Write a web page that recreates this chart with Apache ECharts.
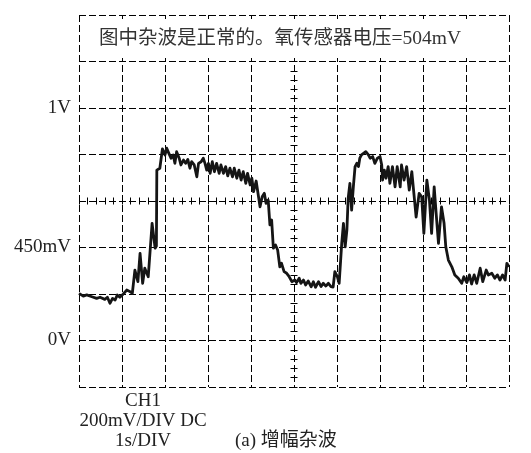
<!DOCTYPE html>
<html>
<head>
<meta charset="utf-8">
<script src="https://cdn.jsdelivr.net/npm/echarts@6/dist/echarts.min.js"></script>
<style>
html,body{margin:0;padding:0;background:#fff;}
#chart{width:531px;height:453px;}
</style>
</head>
<body>
<div id="chart"></div>
<script>
// ---- data (time in s, voltage in mV) ----
var timeSec = [
0.00,0.10,0.18,0.30,0.41,0.49,0.60,0.66,0.72,0.78,0.84,0.89,0.95,1.03,1.11,1.19,
1.24,1.30,1.37,1.42,1.48,1.53,1.61,1.70,1.77,1.80,1.81,1.88,1.94,2.00,2.04,2.09,
2.14,2.19,2.23,2.27,2.33,2.37,2.43,2.48,2.53,2.58,2.62,2.68,2.74,2.78,2.84,2.89,
2.93,2.97,3.01,3.05,3.10,3.15,3.20,3.26,3.30,3.36,3.41,3.46,3.51,3.57,3.61,3.67,
3.72,3.77,3.82,3.88,3.92,3.98,4.02,4.06,4.12,4.16,4.21,4.26,4.31,4.35,4.40,4.44,
4.48,4.52,4.57,4.62,4.67,4.71,4.77,4.83,4.88,4.95,4.98,5.02,5.06,5.12,5.16,5.22,
5.27,5.33,5.40,5.45,5.50,5.57,5.63,5.68,5.74,5.80,5.86,5.91,5.95,6.01,6.05,6.11,
6.15,6.19,6.23,6.26,6.30,6.34,6.38,6.42,6.46,6.50,6.53,6.57,6.61,6.67,6.73,6.77,
6.83,6.88,6.94,7.00,7.04,7.06,7.10,7.14,7.19,7.23,7.29,7.35,7.40,7.47,7.50,7.56,
7.62,7.68,7.74,7.77,7.84,7.91,7.97,8.02,8.09,8.15,8.20,8.26,8.30,8.36,8.43,8.49,
8.53,8.59,8.67,8.74,8.82,8.90,8.95,9.02,9.08,9.13,9.19,9.25,9.33,9.39,9.47,9.52,
9.60,9.67,9.73,9.79,9.85,9.91,9.95,10.00
];
var voltageMv = [
203,191,196,188,181,186,177,186,160,181,174,196,186,200,217,210,
203,303,253,375,246,311,274,504,397,406,733,741,824,798,827,805,
784,798,762,812,784,755,776,762,779,741,769,755,704,762,769,784,
762,733,762,719,769,726,762,719,755,719,748,708,741,704,741,698,
733,690,726,676,719,669,698,640,686,686,575,618,633,590,604,497,
518,397,411,389,317,332,296,289,277,253,246,260,249,268,246,260,
239,256,231,253,229,253,232,246,234,246,232,230,296,274,246,418,
504,403,475,612,676,561,661,748,762,748,784,798,791,812,798,784,
791,762,784,791,755,690,733,698,748,676,748,661,748,661,755,690,
748,647,726,719,531,633,618,461,690,604,461,661,561,418,575,504,
403,346,317,282,268,246,274,249,282,243,282,246,311,253,303,282,
289,268,282,260,282,260,332,317
];
// y tick labels shown on the left (value in mV -> text)
var yLabelValues = [0, 400, 1000];
var yLabelTexts = ['0V', '450mV', '1V'];

var titleText = '图中杂波是正常的。氧传感器电压=504mV';
var chLines = ['CH1', '200mV/DIV DC', '1s/DIV'];
var captionText = '(a) 增幅杂波';

var FONT = '"Liberation Serif","Noto Sans CJK SC",serif';
var seriesData = timeSec.map(function (t, i) { return [t, voltageMv[i]]; });

var dash = { color: '#000', width: 1, type: [7, 3] };
function crossAxisX(inside) {
  return {
    type: 'value', min: 0, max: 10, interval: 1, position: 'bottom', offset: -186,
    axisLine: { show: false }, axisLabel: { show: false }, splitLine: { show: false },
    axisTick: { show: true, inside: inside, length: 3.5, lineStyle: { color: '#000', width: 1 } },
    minorTick: { show: true, splitNumber: 5, length: 3.5, lineStyle: { color: '#000', width: 1 } }
  };
}
function crossAxisY(inside) {
  return {
    type: 'value', min: -200, max: 1400, interval: 200, position: 'left', offset: -215,
    axisLine: { show: false }, axisLabel: { show: false }, splitLine: { show: false },
    axisTick: { show: true, inside: inside, length: 3.5, lineStyle: { color: '#000', width: 1 } },
    minorTick: { show: true, splitNumber: 5, length: 3.5, lineStyle: { color: '#000', width: 1 } }
  };
}

var chart = echarts.init(document.getElementById('chart'));
chart.setOption({
  animation: false,
  backgroundColor: '#fff',
  grid: { left: 79, top: 15, right: 22, bottom: 66 },
  xAxis: [
    {
      type: 'value', min: 0, max: 10, interval: 1,
      axisLine: { show: false }, axisTick: { show: false }, axisLabel: { show: false },
      splitLine: { show: true, showMinLine: true, showMaxLine: true, lineStyle: dash }
    },
    crossAxisX(false),
    crossAxisX(true)
  ],
  yAxis: [
    {
      type: 'value', min: -200, max: 1400, interval: 200,
      axisLine: { show: false }, axisTick: { show: false },
      axisLabel: {
        show: true, margin: 8, color: '#222', fontSize: 19, fontFamily: FONT,
        formatter: function (v) {
          var k = yLabelValues.indexOf(v);
          return k >= 0 ? yLabelTexts[k] : '';
        }
      },
      splitLine: { show: true, showMinLine: true, showMaxLine: true, lineStyle: dash }
    },
    crossAxisY(false),
    crossAxisY(true)
  ],
  series: [{
    type: 'line',
    xAxisIndex: 0, yAxisIndex: 0,
    data: seriesData,
    showSymbol: false,
    z: 3,
    lineStyle: { color: '#151515', width: 2.8, join: 'round' }
  }],
  graphic: [
    { type: 'rect', x: 81, y: 19, z: 50, shape: { width: 426, height: 39 }, style: { fill: '#fff' } },
    { type: 'text', x: 99, y: 39, z: 51, style: { text: titleText, font: '19.5px ' + FONT, fill: '#333', align: 'left', verticalAlign: 'middle' } },
    { type: 'text', x: 143, y: 401, z: 51, style: { text: chLines[0], font: '19px ' + FONT, fill: '#222', align: 'center', verticalAlign: 'middle' } },
    { type: 'text', x: 143, y: 421, z: 51, style: { text: chLines[1], font: '19px ' + FONT, fill: '#222', align: 'center', verticalAlign: 'middle' } },
    { type: 'text', x: 143, y: 441, z: 51, style: { text: chLines[2], font: '19px ' + FONT, fill: '#222', align: 'center', verticalAlign: 'middle' } },
    { type: 'text', x: 235, y: 441, z: 51, style: { text: captionText, font: '19px ' + FONT, fill: '#222', align: 'left', verticalAlign: 'middle' } }
  ]
});
</script>
</body>
</html>
